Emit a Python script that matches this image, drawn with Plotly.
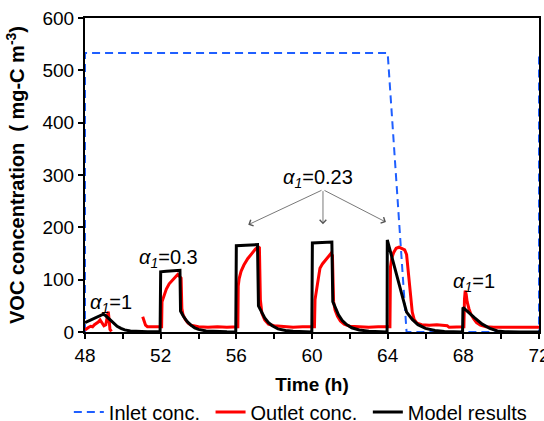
import plotly.graph_objects as go

# Inlet VOC concentration (step profile)
inlet_t = [48, 48, 64, 65, 72, 72]
inlet_c = [0, 533, 533, 0, 0, 533]

# Measured outlet concentration
outlet_t = [48.0, 48.1, 48.2, 48.3, 48.4, 48.5, 48.6, 48.7, 48.8, 48.9, 49.0, 49.1, 49.18, 49.23, 49.28, 49.32, 49.4,
            None,
            51.05, 51.1, 51.2, 51.3, 51.5, 51.75, 52.0, 52.05,
            52.07, 52.12, 52.2, 52.3, 52.45, 52.6, 52.75, 52.9, 53.0, 53.08, 53.12, 53.18, 53.3, 53.45, 53.6, 53.8,
            54.0, 54.5, 55.0, 55.5, 56.0, 56.08,
            56.1, 56.15, 56.25, 56.4, 56.6, 56.8, 57.0, 57.15, 57.22, 57.27, 57.35, 57.5, 57.7, 58.0, 58.5, 59.0,
            59.5, 60.0, 60.13,
            60.16, 60.22, 60.3, 60.42, 60.55, 60.7, 60.85, 61.0, 61.08, 61.14, 61.22, 61.35, 61.5, 61.7, 62.0, 62.5,
            63.0, 63.5, 64.0, 64.12,
            64.15, 64.22, 64.32, 64.45, 64.6, 64.75, 64.9, 65.0, 65.1, 65.2, 65.3, 65.4, 65.55, 65.8, 66.2, 66.6,
            67.0, 67.15, 67.25, 67.6, 68.0, 68.03,
            68.06, 68.1, 68.15, 68.2, 68.3, 68.4, 68.55, 68.7, 68.9, 69.2, 69.6, 70.0, 70.5, 71.0, 71.5, 72.0]
outlet_c = [4, 7, 9, 11, 10, 14, 16, 19, 23, 17, 12, 14, 30, 39, 22, 5, 1,
            None,
            29, 22, 13, 10, 10, 11, 10, 10,
            58, 63, 70, 82, 92, 98, 104, 110, 106, 103, 45, 33, 24, 17, 13, 11,
            10, 9, 10, 9, 10, 10,
            88, 102, 116, 128, 140, 150, 158, 163, 161, 62, 36, 23, 15, 12, 10, 9,
            10, 9, 10,
            62, 78, 95, 122, 130, 136, 143, 150, 146, 58, 42, 30, 21, 15, 11, 10,
            9, 10, 9, 10,
            125, 142, 152, 160, 162, 160, 157, 148, 110, 68, 38, 24, 17, 14, 13, 14,
            13, 12, 9, 9, 9, 10,
            62, 79, 72, 58, 44, 34, 25, 18, 13, 10, 9, 9, 10, 9, 10, 9]

# Model prediction
model_t = [48.0, 48.25, 48.5, 48.75, 48.97, 49.1, 49.3, 49.5, 49.7, 49.9, 50.1, 50.4, 50.8, 51.3, 51.97,
           52.0, 52.3, 52.6, 53.02, 53.05, 53.2, 53.4, 53.6, 53.8, 54.0, 54.4, 54.8, 55.5, 55.97,
           56.0, 56.5, 57.12, 57.17, 57.35, 57.5, 57.7, 57.9, 58.2, 58.6, 59.0, 59.5, 59.99,
           60.02, 60.5, 61.05, 61.1, 61.25, 61.4, 61.6, 61.8, 62.1, 62.5, 63.0, 63.5, 63.97,
           63.98, 64.5, 65.0, 65.3, 65.6, 66.0, 66.5, 67.0, 67.5, 67.96,
           67.98, 68.3, 68.6, 69.0, 69.4, 69.8, 70.2, 71.0, 72.0]
model_c = [18, 22, 27, 31, 34, 31, 24, 17, 11, 7, 4, 2, 1, 0.5, 0.3,
           115, 116, 117, 118, 40, 30, 20, 13, 8, 5, 2, 1, 0.3, 0,
           165, 166, 167, 50, 37, 27, 18, 12, 6, 3, 1.5, 0.5, 0,
           170, 171, 172, 58, 44, 33, 22, 15, 8, 4, 1.5, 0.5, 0,
           176, 105, 38, 24, 14, 7, 3, 1, 0.3, 0,
           47, 36, 27, 15, 7, 2, 0.5, 0, 0]

x_ticks = [48, 52, 56, 60, 64, 68, 72]
x_minor = [50, 54, 58, 62, 66, 70]
y_ticks = [0, 100, 200, 300, 400, 500, 600]

font_family = "Liberation Sans, Arial, sans-serif"
alpha = "<i>α</i><sub><i>1</i></sub>"
nbsp = "\u00a0"

fig = go.Figure()
fig.add_trace(go.Scatter(x=inlet_t, y=inlet_c, mode="lines", name="Inlet conc." + nbsp,
                         line=dict(color="#1f5fff", width=2, dash="8px,5px")))
fig.add_trace(go.Scatter(x=outlet_t, y=outlet_c, mode="lines", name="Outlet conc." + nbsp,
                         line=dict(color="#ff0000", width=3), connectgaps=False))
fig.add_trace(go.Scatter(x=model_t, y=model_c, mode="lines", name="Model results",
                         line=dict(color="#000000", width=3)))

label_font = dict(family=font_family, size=20, color="#000")
fig.add_annotation(x=49.37, y=55, text=alpha + "=1", showarrow=False, font=label_font)
fig.add_annotation(x=52.44, y=141, text=alpha + "=0.3", showarrow=False, font=label_font)
fig.add_annotation(x=60.32, y=294, text=alpha + "=0.23", showarrow=False, font=label_font)
fig.add_annotation(x=68.56, y=94, text=alpha + "=1", showarrow=False, font=label_font)

# Arrows pointing to the three α1=0.23 pulses
for tip_x, tip_y in [(56.63, 205), (60.58, 206), (63.91, 210)]:
    fig.add_annotation(x=tip_x, y=tip_y, ax=60.58, ay=272, xref="x", yref="y",
                       axref="x", ayref="y", text="", showarrow=True,
                       arrowhead=4, arrowsize=1.6, arrowwidth=0.8, arrowcolor="#555555",
                       standoff=0, startstandoff=0)

fig.update_layout(
    width=544, height=421,
    margin=dict(l=85, r=5, t=18, b=89, autoexpand=False),
    paper_bgcolor="white", plot_bgcolor="white",
    font=dict(family=font_family, size=19, color="#000"),
    showlegend=True,
    legend=dict(orientation="h", x=-0.0356, xanchor="left", y=-0.255, yanchor="middle",
                font=dict(size=20), itemwidth=30, tracegroupgap=0, bgcolor="rgba(0,0,0,0)"),
)
fig.update_xaxes(
    range=[48, 72], tickmode="array", tickvals=x_ticks,
    ticks="outside", ticklen=5, tickwidth=2, tickcolor="#000",
    minor=dict(tickvals=x_minor, ticks="outside", ticklen=5, tickwidth=2, tickcolor="#000"),
    showline=True, linecolor="#000", linewidth=2, mirror=True, showgrid=False, zeroline=False,
    title=dict(text="<b>Time (h)</b>", font=dict(size=19), standoff=13),
    tickfont=dict(size=19), ticklabeloverflow="allow", automargin=False,
)
fig.update_yaxes(
    range=[0, 600], tickmode="array", tickvals=y_ticks,
    ticks="outside", ticklen=5, tickwidth=2, tickcolor="#000",
    showline=True, linecolor="#000", linewidth=2, mirror=True, showgrid=False, zeroline=False,
    title=dict(text="<b>VOC concentration  ( mg-C m<sup>-3</sup>)</b>", font=dict(size=20), standoff=12),
    tickfont=dict(size=19), ticklabeloverflow="allow", automargin=False,
)

fig.write_html("out.html")
